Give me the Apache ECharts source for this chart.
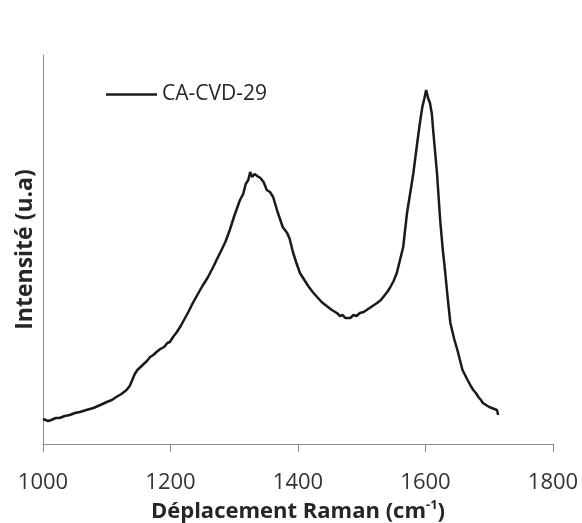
<!DOCTYPE html>
<html>
<head>
<meta charset="utf-8">
<script src="https://cdn.jsdelivr.net/npm/echarts@6/dist/echarts.min.js"></script>
<style>html,body{margin:0;padding:0;background:#fff}#c{width:582px;height:523px}</style>
</head>
<body>
<div id="c"></div>
<script>
const seriesName = 'CA-CVD-29';
const xTicks = [1000, 1200, 1400, 1600, 1800];
const wavenumber = [1000,1008,1013,1020,1026,1034,1042,1050,1058,1068,1079,1090,1100,1108,1115,1123,1131,1136,1140,1144,1148,1153,1158,1163,1168,1173,1178,1184,1190,1195,1199,1204,1210,1216,1222,1228,1235,1242,1250,1258,1267,1273,1280,1286,1293,1300,1309,1314,1318,1322,1325,1328,1332,1336,1341,1346,1351,1356,1361,1368,1376,1383,1387,1392,1397,1403,1410,1416,1423,1430,1437,1445,1453,1461,1466,1470,1474,1477,1482,1487,1492,1497,1503,1510,1517,1524,1530,1535,1540,1544,1550,1555,1560,1565,1571,1576,1581,1587,1591,1595,1598,1601,1604,1607,1610,1612,1618,1623,1627,1631,1635,1639,1645,1650,1654,1658,1662,1666,1671,1675,1679,1683,1687,1690,1695,1700,1704,1708,1712,1714];
const intensity = [25,23,24,26,26,28,29,31,32,34,36,39,42,44,47,50,54,58,64,70,74,77,80,83,87,89,92,95,97,101,102,107,112,118,125,132,141,149,158,166,177,185,194,202,214,228,244,250,260,264,272,267,270,268,266,262,254,252,247,232,217,211,205,192,182,171,164,158,152,147,142,138,134,131,128,129,126,127,126,129,128,131,132,135,138,141,144,148,152,156,163,171,184,197,231,251,271,301,320,337,345,354,346,341,330,314,271,224,195,171,145,121,105,94,84,74,69,64,58,54,51,47,44,41,39,37,36,35,34,29];
const yMin = 0, yMax = 389;

const data = wavenumber.map((w, i) => [w, intensity[i]]);
const chart = echarts.init(document.getElementById('c'), null, {renderer: 'canvas'});
const axisGray = '#8c8c8c';
chart.setOption({
  animation: false,
  backgroundColor: '#fff',
  grid: {left: 43, right: 29, top: 55, bottom: 79, containLabel: false, outerBoundsMode: 'none'},
  legend: {
    data: [seriesName],
    left: 106, top: 84, padding: 0,
    icon: 'path://M0,0L51,0L51,2.5L0,2.5Z',
    itemWidth: 51, itemHeight: 2.5, itemGap: 10,
    textStyle: {fontSize: 21, color: '#262626', fontFamily: 'Open Sans'}
  },
  xAxis: {
    type: 'value', min: xTicks[0], max: xTicks[xTicks.length - 1], interval: 200,
    axisLine: {show: true, lineStyle: {color: axisGray, width: 1}},
    axisTick: {show: true, inside: false, length: 8, lineStyle: {color: axisGray}},
    splitLine: {show: false},
    axisLabel: {fontSize: 22, color: '#333', fontFamily: 'Open Sans', margin: 28, formatter: v => String(v)},
    name: '{a|Déplacement Raman (cm}{s|-1}{a|)}',
    nameLocation: 'middle', nameGap: 54,
    nameTextStyle: {
      rich: {
        a: {fontSize: 22, fontWeight: 'bold', color: '#262626', fontFamily: 'Open Sans'},
        s: {fontSize: 13, fontWeight: 'bold', color: '#262626', fontFamily: 'Open Sans', padding: [0,0,12,0]}
      }
    }
  },
  yAxis: {
    type: 'value', min: yMin, max: yMax,
    axisLine: {show: true, lineStyle: {color: axisGray, width: 1}},
    axisTick: {show: false},
    axisLabel: {show: false},
    splitLine: {show: false},
    name: 'Intensité (u.a)', nameLocation: 'middle', nameGap: 6,
    nameTextStyle: {fontSize: 23, fontWeight: 'bold', color: '#262626', fontFamily: 'Open Sans'}
  },
  series: [{
    name: seriesName, type: 'line', data: data,
    symbol: 'none', smooth: false,
    lineStyle: {color: '#1a1a1a', width: 2.5},
    itemStyle: {color: '#1a1a1a'}
  }]
});
</script>
</body>
</html>
